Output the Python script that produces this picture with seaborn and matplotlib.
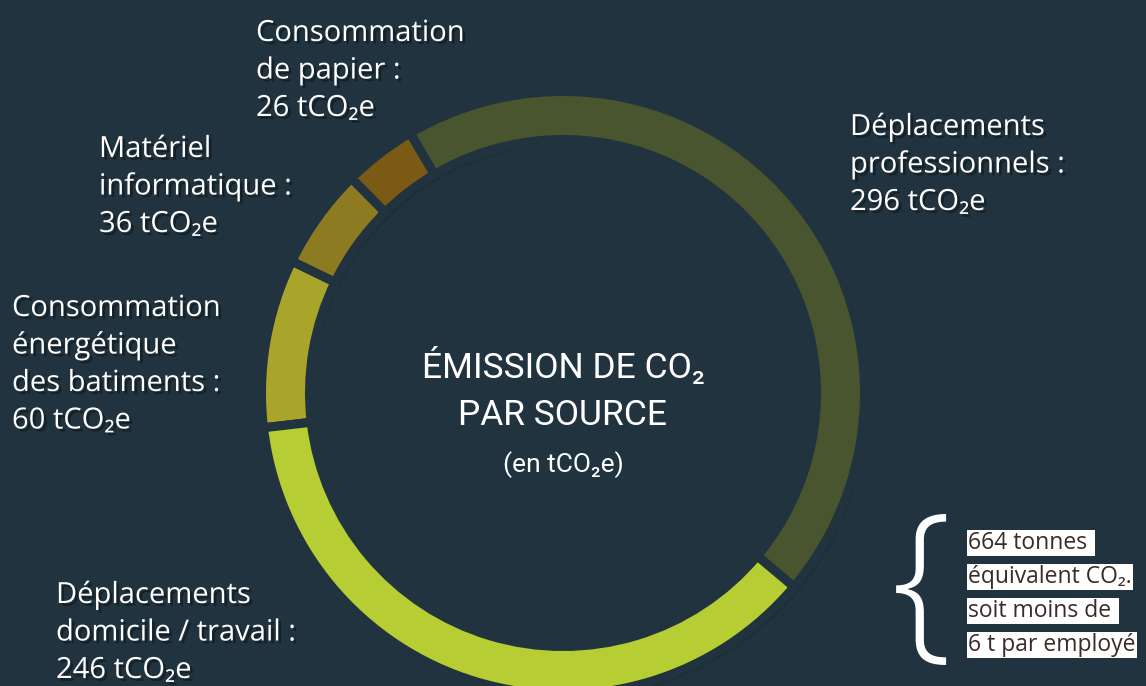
import matplotlib
matplotlib.use("Agg")
import matplotlib.pyplot as plt
import matplotlib.patheffects as pe
import seaborn as sns

# ---------------- data ----------------
categories = ["Déplacements professionnels", "Consommation de papier",
              "Matériel informatique", "Consommation énergétique des batiments",
              "Déplacements domicile / travail"]
label_lines = [["Déplacements", "professionnels :"],
               ["Consommation", "de papier :"],
               ["Matériel", "informatique :"],
               ["Consommation", "énergétique", "des batiments :"],
               ["Déplacements", "domicile / travail :"]]
values = [296, 26, 36, 60, 246]
unit = "tCO₂e"
colors = ["#48552e", "#7b5a16", "#8d7b21", "#a8a52a", "#b6cd34"]
title_lines = ["ÉMISSION DE CO₂", "PAR SOURCE"]
subtitle = "(en tCO₂e)"
total_lines = ["664 tonnes ", "équivalent CO₂.", "soit moins de ", "6 t par employé"]

# ---------------- style ----------------
BG = "#21333e"
sns.set_theme(style="dark", rc={"axes.facecolor": BG, "figure.facecolor": BG,
                                "savefig.facecolor": BG})
plt.rcParams["font.family"] = ["Open Sans", "DejaVu Sans"]
palette = sns.color_palette(colors)

W, H = 1146, 686
fig = plt.figure(figsize=(W / 100, H / 100), dpi=100)
ax = fig.add_axes([0, 0, 1, 1])

cx, cy = 563, H - 393
R = 297
ring = 39
gap_pt = 6.5
gap_px = gap_pt * 100 / 72

# soft shadow under the ring
for dx, dy, a, extra in [(5, -6, 0.18, 3), (3, -4, 0.25, 1), (2, -2, 0.3, 0)]:
    ax.pie(values, radius=R + extra, center=(cx + dx, cy + dy), startangle=-40,
           colors=["#0e1a21"] * len(values),
           wedgeprops=dict(width=ring + 2 * extra, linewidth=0, alpha=a), frame=True)

ax.pie(values, radius=R + gap_px / 2, center=(cx, cy), startangle=-40,
       colors=palette, counterclock=True,
       wedgeprops=dict(width=ring + gap_px, edgecolor=BG, linewidth=gap_pt,
                       joinstyle="miter"),
       frame=True)

ax.set_xlim(0, W)
ax.set_ylim(0, H)
ax.set_aspect("auto")
ax.axis("off")

shadow = [pe.withSimplePatchShadow(offset=(2, -2), shadow_rgbFace="black", alpha=0.35)]

# category labels (x, first-line baseline in image px)
label_pos = [(850, 135), (256, 41), (99, 157), (12, 316), (56, 603)]
line_h = 37.5
for lines, v, (x, y0) in zip(label_lines, values, label_pos):
    for k, s in enumerate(lines + [f"{v} {unit}"]):
        ax.text(x, H - (y0 + k * line_h), s, color="white", fontsize=21,
                ha="left", va="baseline", path_effects=shadow)

# centre title
tfam = ["Liberation Sans Narrow", "Roboto", "DejaVu Sans"]
for s, yb in zip(title_lines, [378, 425]):
    ax.text(cx, H - yb, s, color="white", fontsize=25.5, family=tfam,
            ha="center", va="baseline")
ax.text(cx, H - 472, subtitle, color="white", fontsize=19, family=tfam,
        ha="center", va="baseline")

# brace + total box
ax.text(921, H - 593, "{", color="white", fontsize=125, fontweight="light",
        ha="center", va="center")
for k, s in enumerate(total_lines):
    ax.text(968, H - (549 + k * 34), s, color="#3a2b27", fontsize=16.5,
            ha="left", va="baseline",
            bbox=dict(boxstyle="square,pad=0.06", facecolor="white", edgecolor="none"))

fig.savefig("out.png", dpi=100, facecolor=BG)
